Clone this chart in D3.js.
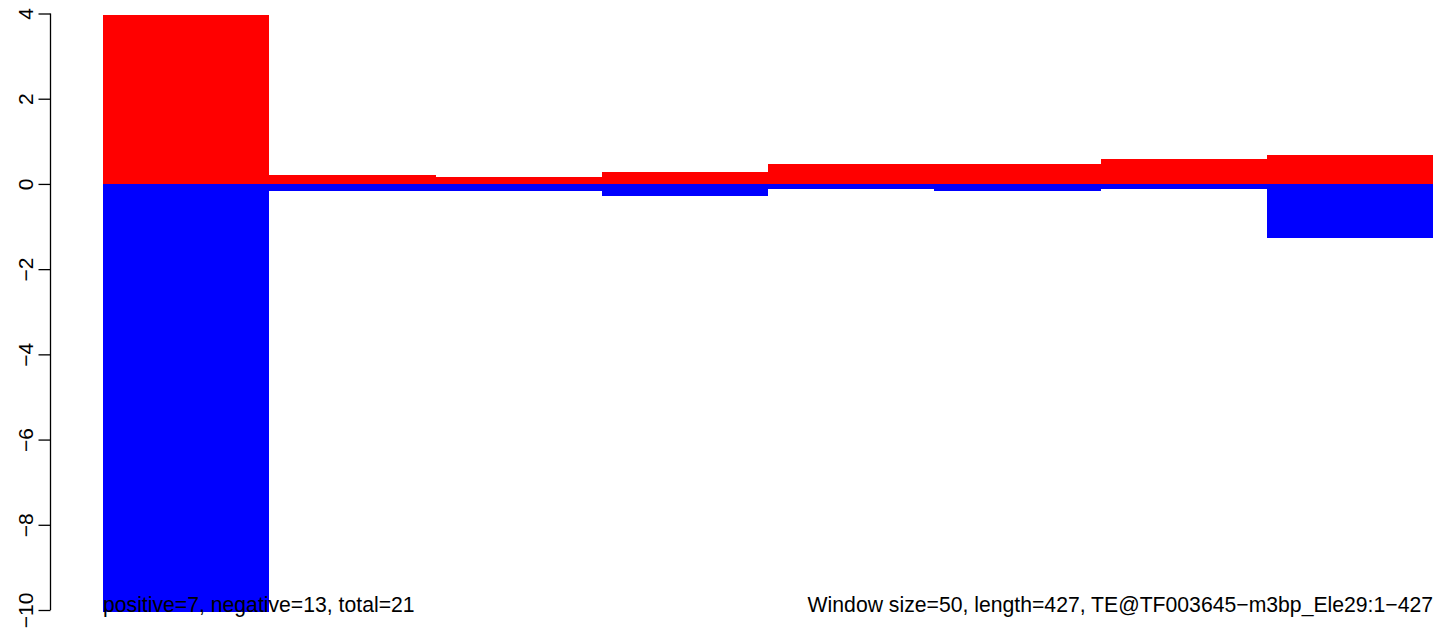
<!DOCTYPE html>
<html><head><meta charset="utf-8">
<script src="https://cdn.jsdelivr.net/npm/d3@7"></script>
<style>body{margin:0;background:#fff}svg{display:block}text{font-family:"Liberation Sans",Arial,sans-serif}</style>
</head><body>
<script>
const windows = ["1","2","3","4","5","6","7","8"];
const positiveValues = [3.97, 0.21, 0.16, 0.27, 0.47, 0.47, 0.59, 0.68];
const negativeValues = [-10.05, -0.17, -0.17, -0.29, -0.12, -0.16, -0.12, -1.26];
const yTicks = [-10, -8, -6, -4, -2, 0, 2, 4];
const leftNote = "positive=7, negative=13, total=21";
const rightNote = "Window size=50, length=427, TE@TF003645\u2212m3bp_Ele29:1\u2212427";

const W = 1444, H = 634;
const svg = d3.select("body").append("svg").attr("width", W).attr("height", H);
const x = d3.scaleBand().domain(windows).range([103, 1433]).padding(0);
const y = d3.scaleLinear().domain([-10, 4]).range([610, 13.5]);

svg.append("g").attr("shape-rendering", "crispEdges").selectAll("rect").data(windows).join("rect")
  .attr("x", d => x(d)).attr("width", x.bandwidth())
  .attr("y", (d,i) => y(positiveValues[i])).attr("height", (d,i) => y(0) - y(positiveValues[i]))
  .attr("fill", "#ff0000");
svg.append("g").attr("shape-rendering", "crispEdges").selectAll("rect").data(windows).join("rect")
  .attr("x", d => x(d)).attr("width", x.bandwidth())
  .attr("y", y(0)).attr("height", (d,i) => y(negativeValues[i]) - y(0))
  .attr("fill", "#0000ff");

const axis = d3.axisLeft(y).tickValues(yTicks).tickSize(12).tickPadding(0)
  .tickFormat(d => d3.format("")(d).replace("-", "\u2212"));
const ga = svg.append("g").attr("transform", "translate(50.5,0)").call(axis);
ga.select(".domain").attr("d", `M0,${y(-10)}V${y(4)}`).attr("stroke", "#000").attr("stroke-width", 1.3);
ga.selectAll(".tick line").attr("stroke", "#000").attr("stroke-width", 1.3);
ga.selectAll(".tick text")
  .attr("x", null).attr("dy", null)
  .attr("transform", "translate(-17.5,0) rotate(-90)")
  .attr("text-anchor", "middle").attr("fill", "#000")
  .style("font-size", "21px").style("font-family", '"Liberation Sans",Arial,sans-serif');

svg.append("text").attr("x", 103).attr("y", 611.5).attr("font-size", 21.2).attr("fill", "#000").text(leftNote);
svg.append("text").attr("x", 1433).attr("y", 611.5).attr("text-anchor", "end").attr("font-size", 21.2).attr("fill", "#000").text(rightNote);
</script>
</body></html>
